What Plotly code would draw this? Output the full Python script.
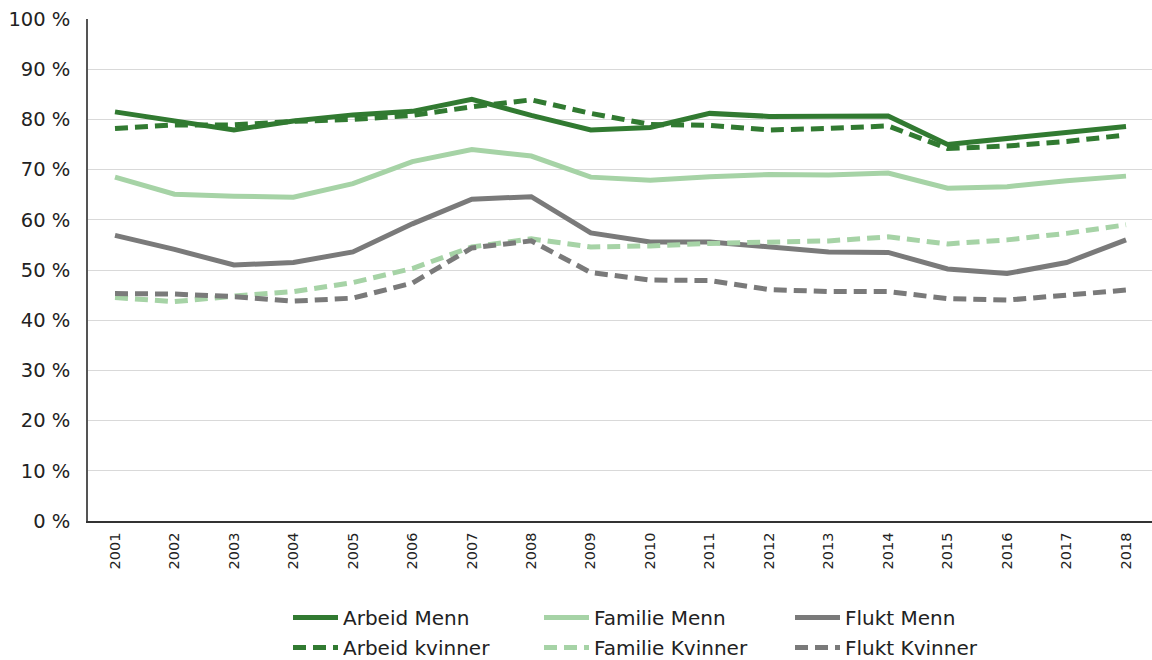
import plotly.graph_objects as go

years = [str(y) for y in range(2001, 2019)]
arbeid_menn = [81.5, 79.7, 77.9, 79.7, 80.9, 81.6, 84.0, 80.8, 77.9, 78.4, 81.2, 80.6, 80.6, 80.7, 75.0, 76.2, 77.4, 78.6]
arbeid_kvinner = [78.2, 78.9, 78.9, 79.6, 80.0, 80.8, 82.5, 83.9, 81.2, 79.0, 78.8, 77.9, 78.2, 78.7, 74.2, 74.7, 75.6, 76.9]
familie_menn = [68.5, 65.1, 64.7, 64.5, 67.2, 71.6, 74.0, 72.7, 68.5, 67.9, 68.6, 69.0, 68.9, 69.3, 66.3, 66.6, 67.8, 68.7]
familie_kvinner = [44.5, 43.7, 44.8, 45.7, 47.5, 50.3, 54.6, 56.2, 54.6, 54.8, 55.3, 55.6, 55.8, 56.6, 55.2, 56.0, 57.3, 59.0]
flukt_menn = [56.9, 54.1, 51.0, 51.5, 53.6, 59.2, 64.1, 64.6, 57.4, 55.6, 55.6, 54.5, 53.6, 53.5, 50.2, 49.3, 51.5, 56.0]
flukt_kvinner = [45.3, 45.2, 44.7, 43.8, 44.4, 47.4, 54.4, 55.8, 49.5, 48.0, 47.9, 46.1, 45.7, 45.7, 44.3, 44.0, 45.0, 46.0]

y_ticks = list(range(0, 101, 10))
y_labels = [f"{v} %" for v in y_ticks]

DARK = "#317a31"
LIGHT = "#a6d3a6"
GRAY = "#7a7a7a"
DASH = "13px,7px"

series = [
    ("Arbeid Menn", arbeid_menn, DARK, "solid", "legend"),
    ("Familie Menn", familie_menn, LIGHT, "solid", "legend"),
    ("Flukt Menn", flukt_menn, GRAY, "solid", "legend"),
    ("Arbeid kvinner", arbeid_kvinner, DARK, DASH, "legend2"),
    ("Familie Kvinner", familie_kvinner, LIGHT, DASH, "legend2"),
    ("Flukt Kvinner", flukt_kvinner, GRAY, DASH, "legend2"),
]

fig = go.Figure()
for name, vals, col, dash, lg in series:
    fig.add_trace(go.Scatter(
        x=years, y=vals, name=name, mode="lines", legend=lg,
        line=dict(color=col, width=5, dash=dash),
    ))

legend_common = dict(
    orientation="h", xref="container", x=288 / 1152, xanchor="left",
    yref="container", yanchor="top",
    entrywidth=191, entrywidthmode="pixels",
    font=dict(size=20, color="#222222"), traceorder="normal",
    tracegroupgap=0, itemwidth=45, bgcolor="rgba(0,0,0,0)",
)

fig.update_layout(
    width=1152, height=660,
    margin=dict(l=88, r=0, t=19, b=139),
    paper_bgcolor="white", plot_bgcolor="white",
    font=dict(family="DejaVu Sans, Verdana, sans-serif", color="#222222"),
    showlegend=True,
    legend=dict(legend_common, y=1 - 598 / 660),
    legend2=dict(legend_common, y=1 - 628 / 660),
)
fig.update_xaxes(
    type="category", tickangle=-90, tickfont=dict(size=14.5, color="#222222"),
    showline=True, linecolor="#333333", linewidth=1.5, showgrid=False,
    ticks="", range=[-0.454, 17.437], automargin=False, ticklabelstandoff=4,
)
fig.update_yaxes(
    range=[0, 100], tickvals=y_ticks, ticktext=y_labels,
    tickfont=dict(size=19.5, color="#222222"),
    showgrid=True, gridcolor="#d9d9d9", gridwidth=1,
    showline=True, linecolor="#555555", linewidth=1.5, ticks="",
    zeroline=False, ticklabelstandoff=12, automargin=False,
)

fig.write_html(
    "out.html",
    config={"displayModeBar": False},
    post_script="document.body.style.margin='0px';document.body.style.overflow='hidden';",
)
